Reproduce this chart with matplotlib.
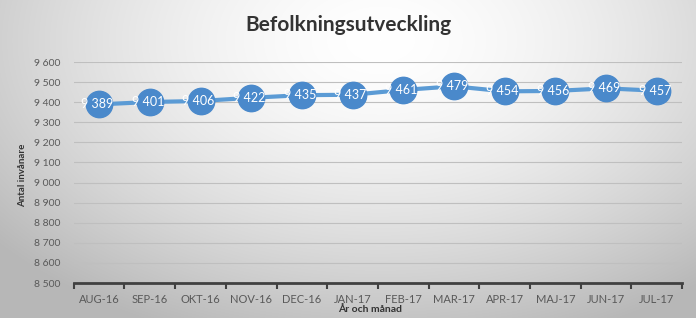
import numpy as np
import matplotlib.pyplot as plt

months = ["AUG-16", "SEP-16", "OKT-16", "NOV-16", "DEC-16", "JAN-17",
          "FEB-17", "MAR-17", "APR-17", "MAJ-17", "JUN-17", "JUL-17"]
invanare = [9389, 9401, 9406, 9422, 9435, 9437, 9461, 9479, 9454, 9456, 9469, 9457]
yticks = list(range(8500, 9601, 100))

plt.rcParams['font.family'] = ['Lato', 'DejaVu Sans']

fig = plt.figure(figsize=(6.96, 3.18), dpi=100)

# radial gradient background
bg = fig.add_axes([0, 0, 1, 1], zorder=-10)
yy, xx = np.mgrid[0:318, 0:696]
d = np.sqrt(((xx - 380) / 520.0) ** 2 + ((yy - 40) / 330.0) ** 2)
g = np.clip(1.0 - 0.30 * d ** 1.6, 0.72, 1.0)
bg.imshow(np.dstack([g, g, g]), aspect='auto', extent=[0, 1, 0, 1])
bg.set_axis_off()

ax = fig.add_axes([0.106, 0.110, 0.874, 0.695])
ax.set_facecolor('none')
x = np.arange(len(months))
ax.plot(x, invanare, color='#5B9BD5', lw=3, marker='o', markersize=19,
        markerfacecolor='#4A89CB', markeredgecolor='#4A89CB', zorder=3)
for xi, v in zip(x, invanare):
    lab = f"{v:,}".replace(",", " ")
    ax.text(xi - 0.04, v, lab, color='white', ha='center', va='center',
            fontsize=9, zorder=4)

ax.set_xlim(-0.5, len(months) - 0.5)
ax.set_ylim(8500, 9600)
ax.set_yticks(yticks)
ax.set_yticklabels([f"{t:,}".replace(",", " ") for t in yticks],
                   fontsize=7.5, color='#595959')
ax.set_xticks(x)
ax.set_xticklabels(months, fontsize=8, color='#595959')
ax.set_xticks(np.arange(-0.5, len(months)), minor=True)
ax.tick_params(axis='x', which='major', length=0, pad=8)
ax.tick_params(axis='x', which='minor', length=4, width=1.5, color='#404040')
ax.tick_params(axis='y', length=0, pad=10)
ax.grid(axis='y', color='#BFBFBF', lw=0.8)
ax.set_axisbelow(True)
for s in ['top', 'right', 'left']:
    ax.spines[s].set_visible(False)
ax.spines['bottom'].set_color('#404040')
ax.spines['bottom'].set_linewidth(2)

fig.text(0.5, 0.92, "Befolkningsutveckling", fontsize=15, fontweight='bold',
         color='#333333', ha='center', va='center')
fig.text(0.532, 0.012, "År och månad", fontsize=7.5, fontweight='bold',
         color='#333333', ha='center', va='bottom')
fig.text(0.032, 0.45, "Antal invånare", fontsize=7, fontweight='bold',
         color='#333333', rotation=90, ha='center', va='center')

fig.savefig("out.png", dpi=100)
